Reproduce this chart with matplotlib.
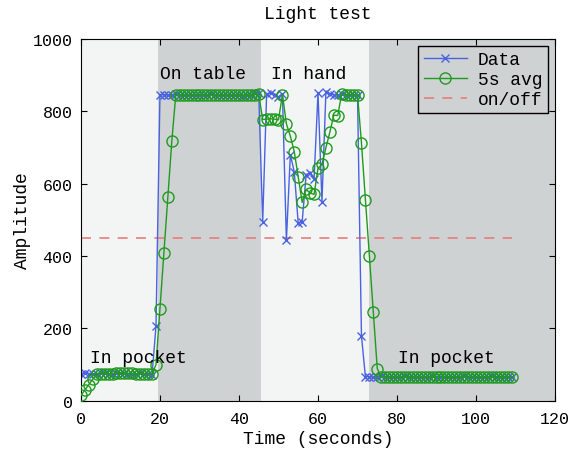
import matplotlib
matplotlib.use("Agg")
import matplotlib.pyplot
import numpy

# raw light sensor samples, one per second
data = [
    74, 76, 75, 73, 75, 77, 76, 74, 75, 78, 77, 76, 75, 74, 75, 76, 74, 73, 72,
    207,
    845, 846, 844, 845, 847, 845, 844, 846, 845, 845, 844, 846, 845, 847, 845,
    844, 845, 846, 845, 844, 845, 843, 845, 846, 850, 850,
    495, 848, 850, 846, 840, 847, 443, 680, 632, 490, 495, 625, 630, 612, 850,
    550, 852, 848, 846, 845, 847, 845, 846, 845, 845,
    180,
    66, 67, 65, 66, 68, 67, 66, 65, 67, 66, 68, 67, 66, 67, 65, 66, 67, 68, 66,
    67, 66, 65, 67, 66, 67, 68, 66, 67, 66, 65, 66, 67, 68, 66, 67, 66, 67, 66]

# 5 s average
average = [
    15, 30, 45, 60, 75, 75, 75, 75, 75, 76, 76, 76, 76, 76, 75, 75, 75, 74, 74,
    100,
    254, 409, 563, 717, 845, 845, 845, 845, 845, 845, 845, 845, 845, 845, 845,
    845, 845, 845, 845, 845, 845, 845, 844, 845, 846, 847,
    777, 778, 779, 778, 776, 846, 765, 731, 688, 618, 548, 584, 574, 570, 642,
    653, 699, 742, 789, 788, 848, 846, 846, 846, 846,
    712,
    556, 401, 245, 89, 66, 67, 66, 66, 67, 66, 66, 67, 67, 67, 67, 66, 66, 67,
    66, 67, 67, 66, 66, 66, 66, 67, 67, 67, 67, 66, 66, 66, 66, 66, 67, 67, 67,
    66]

time = list(range(len(data))) # s
threshold = 450

# on/off phases shaded in the background
phase_edges = [0, 19.5, 45.5, 72.9, 120]
phase_colors = ["#f3f5f4", "#cfd2d3", "#f3f5f4", "#cfd2d3"]
phase_labels = ["In pocket", "On table", "In hand", "In pocket"]
label_x = [2.3, 20, 48, 80.3]
label_y = [121, 903, 903, 121]

def main():
    matplotlib.pyplot.rcParams["font.family"] = ["Liberation Mono", "DejaVu Sans Mono"]
    matplotlib.pyplot.rcParams["font.size"] = 12

    figure = matplotlib.pyplot.figure(figsize=(5.74, 4.52), dpi=100)
    plot = figure.add_axes([0.141, 0.111, 0.826, 0.801])

    for start, end, color in zip(phase_edges[:-1], phase_edges[1:], phase_colors):
        plot.axvspan(start, end, color=color, lw=0, zorder=0)

    plot.plot(time, data, "-x", color="#4a62e0", lw=1, ms=6, mew=1,
              label="Data", zorder=2)
    plot.plot(time, average, "-o", color="#1f9a1f", lw=1, ms=8, mew=1,
              mfc="none", label="5s avg", zorder=3)
    plot.plot([time[0], time[-1]], [threshold, threshold], "--",
              color="#e87c7c", lw=1.2, dashes=(6, 5), label="on/off", zorder=1)

    for text, x, y in zip(phase_labels, label_x, label_y):
        plot.text(x, y, text, fontsize=13, va="center", ha="left", zorder=4)

    plot.set_xlim(0, 120)
    plot.set_ylim(0, 1000)
    plot.set_xticks(range(0, 121, 20))
    plot.set_yticks(range(0, 1001, 200))
    plot.tick_params(direction="in", top=True, right=True, labelsize=12,
                     length=4, pad=7)
    plot.tick_params(axis="y", pad=6)
    plot.set_xlabel("Time (seconds)", fontsize=13, labelpad=3)
    plot.set_ylabel("Amplitude", fontsize=13, labelpad=1)
    plot.set_title("Light test", fontsize=13, pad=15)

    legend = plot.legend(loc="upper right", fontsize=13, fancybox=False,
                         facecolor="none", edgecolor="black",
                         borderaxespad=0.4, handlelength=2.4, borderpad=0.3,
                         labelspacing=0.15, handletextpad=0.6)
    legend.get_frame().set_linewidth(1)
    legend.get_frame().set_alpha(None)

    figure.savefig("out.png", dpi=100)

if __name__ == "__main__":
    main()
